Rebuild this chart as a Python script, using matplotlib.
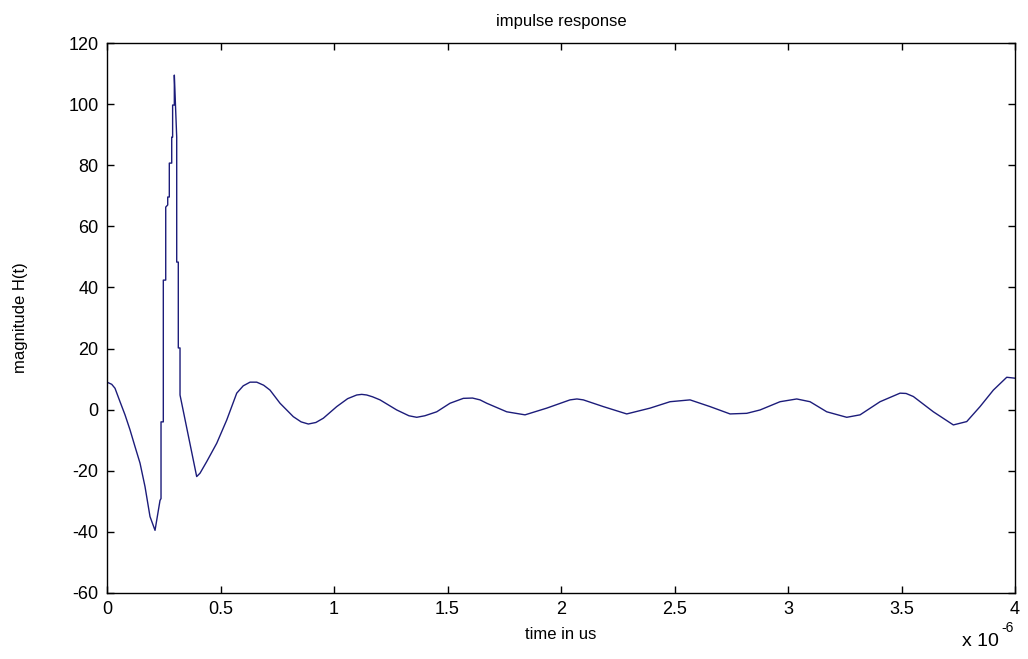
import numpy as np
import matplotlib
matplotlib.use("Agg")
import matplotlib.pyplot as plt

# impulse response (time in us, magnitude)
t_us = [0.0, 0.0207, 0.0352, 0.0573, 0.0793, 0.1013, 0.1233, 0.1454, 0.1674, 0.1894,
        0.2115, 0.2335, 0.2379, 0.2379, 0.248, 0.248, 0.2586, 0.2586, 0.2674, 0.2674,
        0.2744, 0.2744, 0.285, 0.285, 0.289, 0.289, 0.2965, 0.2965, 0.307, 0.307,
        0.314, 0.314, 0.3216, 0.3216, 0.395, 0.4097, 0.4392, 0.4833, 0.5273, 0.5714,
        0.60, 0.630, 0.6595, 0.69, 0.718, 0.7621, 0.8207, 0.855, 0.8868, 0.92,
        0.953, 1.0119, 1.06, 1.1, 1.122, 1.144, 1.17,
        1.2026, 1.2762, 1.33, 1.3643, 1.40, 1.4524, 1.511, 1.5696, 1.61, 1.6432,
        1.6727, 1.7608, 1.8414, 1.937, 2.0396, 2.07, 2.0982, 2.1863, 2.2894, 2.3921,
        2.4802, 2.5683, 2.6564, 2.7445, 2.8181, 2.8767, 2.9648, 3.0383, 3.0969, 3.1705,
        3.2586, 3.3172, 3.4053, 3.4934, 3.52, 3.552, 3.6401, 3.7282, 3.7872, 3.8458,
        3.9044, 3.9634, 4.0]
mag = [9.0, 8.3, 7.0, 2.6, -1.7, -6.6, -12.1, -17.5, -25.2, -35.0,
       -39.5, -29.7, -29.1, -4.0, -4.0, 42.4, 42.4, 66.3, 67.0, 69.6,
       69.6, 80.7, 80.7, 89.2, 89.2, 99.7, 99.7, 109.5, 89.2, 48.3,
       48.3, 20.2, 20.2, 4.8, -21.9, -20.8, -17.0, -11.0, -3.4, 5.4,
       7.8, 9.0, 9.0, 8.0, 6.4, 2.1, -2.3, -4.0, -4.7, -4.2,
       -2.8, 1.0, 3.6, 4.8, 5.0, 4.8, 4.2,
       3.2, -0.1, -2.0, -2.5, -2.0, -0.7, 2.1, 3.7, 3.8, 3.2,
       2.1, -0.7, -1.7, 0.5, 3.2, 3.5, 3.2, 1.0, -1.4, 0.5,
       2.6, 3.2, 1.0, -1.4, -1.2, -0.1, 2.6, 3.5, 2.6, -0.7,
       -2.5, -1.7, 2.6, 5.4, 5.3, 4.3, -0.7, -5.0, -3.9, 1.0,
       6.4, 10.6, 10.3]

xticks = [0, 0.5, 1, 1.5, 2, 2.5, 3, 3.5, 4]
xticklabels = ['0', '0.5', '1', '1.5', '2', '2.5', '3', '3.5', '4']
yticks = list(range(-60, 121, 20))

plt.rcParams['font.family'] = ['Liberation Sans', 'DejaVu Sans']
plt.rcParams['axes.unicode_minus'] = False

fig = plt.figure(figsize=(10.28, 6.59), dpi=100)
ax = fig.add_axes([0.1041, 0.1002, 0.8833, 0.8345])

t = np.array(t_us) * 1e-6
ax.plot(t, mag, color='#1c1c7a', lw=1.0)

ax.set_xlim(0, 4e-6)
ax.set_ylim(-60, 120)
ax.set_xticks([v * 1e-6 for v in xticks])
ax.set_xticklabels(xticklabels)
ax.set_yticks(yticks)
ax.tick_params(direction='in', length=5, width=1, top=True, right=True,
               labelsize=13, pad=6)
for s in ax.spines.values():
    s.set_linewidth(1.0)

ax.set_title('impulse response', fontsize=12, pad=12)
ax.set_xlabel('time in us', fontsize=12, labelpad=6)
ax.set_ylabel('magnitude H(t)', fontsize=12, labelpad=29)

# matlab style exponent below the x axis
fig.text(0.972, 0.013, 'x 10', ha='right', va='bottom', fontsize=14)
fig.text(0.974, 0.036, '-6', ha='left', va='bottom', fontsize=10)

fig.savefig('out.png', dpi=100)
